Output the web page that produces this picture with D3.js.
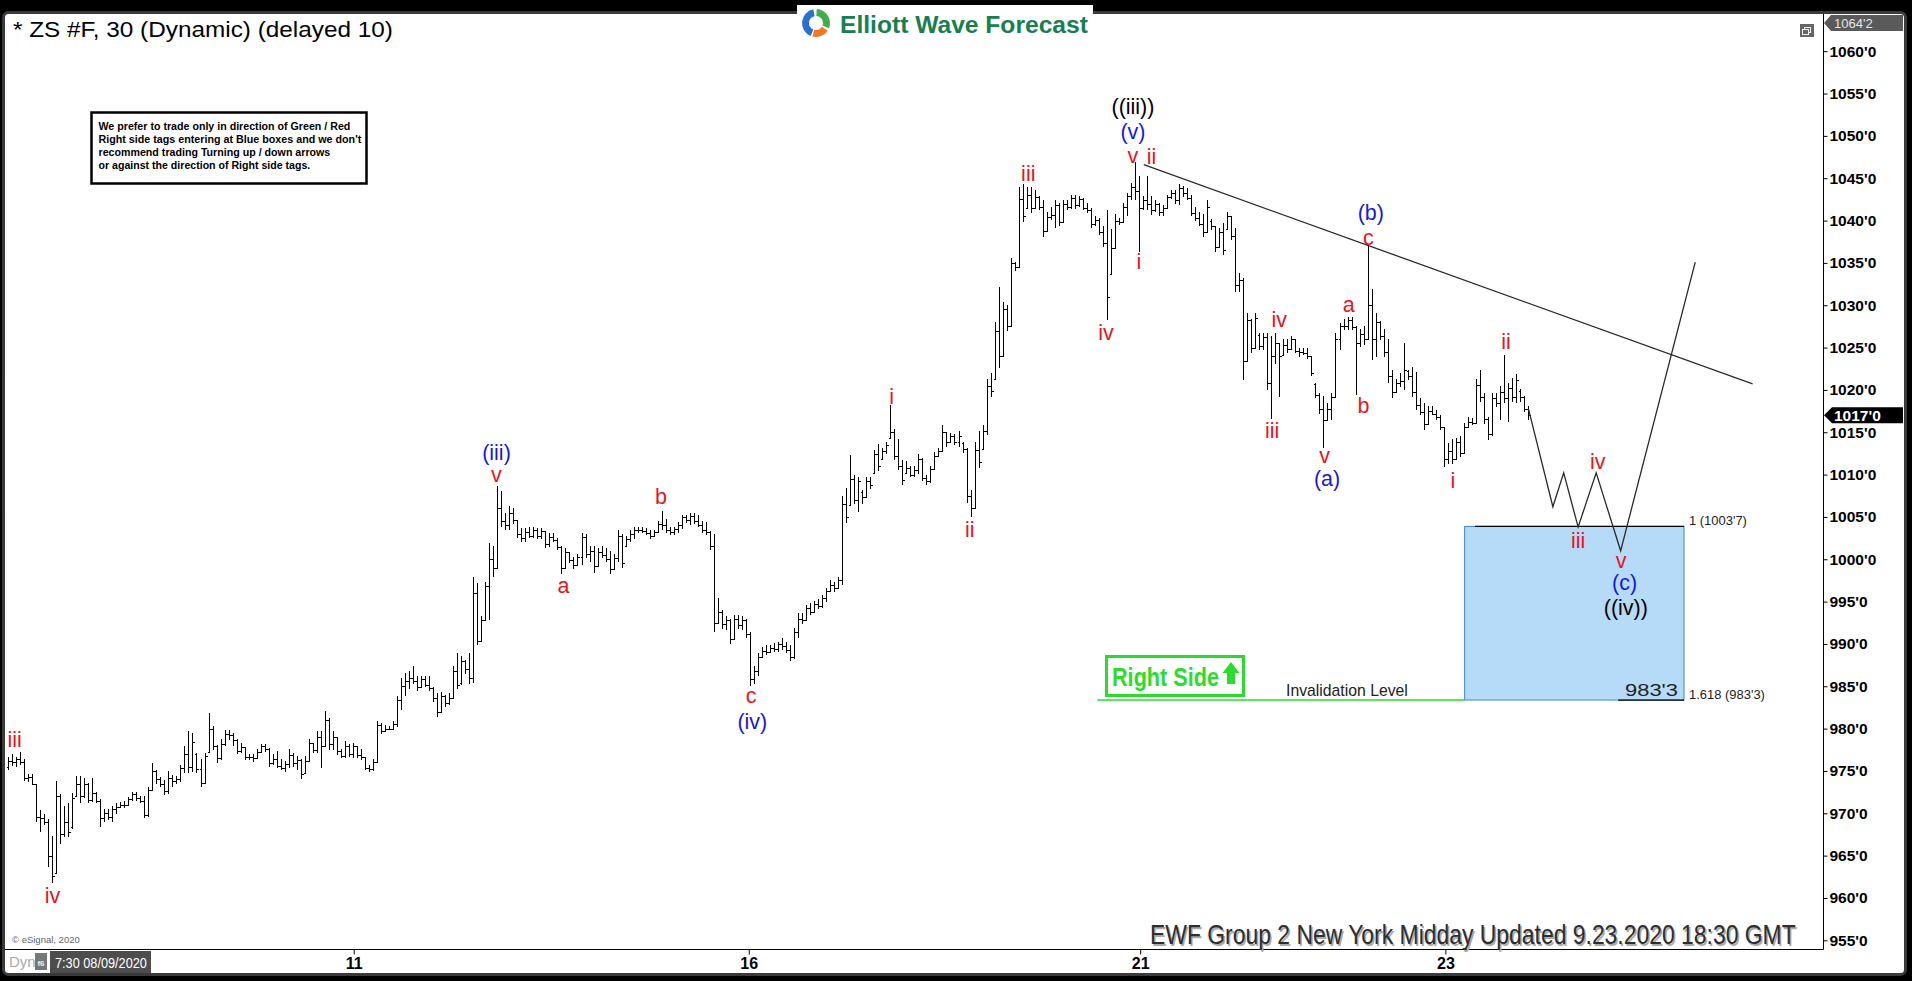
<!DOCTYPE html>
<html><head><meta charset="utf-8">
<script src="https://cdn.jsdelivr.net/npm/d3@7"></script>
<style>html,body{margin:0;padding:0;background:#000;overflow:hidden}</style>
</head><body>
<svg id="c" width="1912" height="981"></svg>
<script>
// ---- 30-minute OHLC bars (ZS #F) ----
const opens = [
975.5,976.2,976.0,976.4,976.0,974.2,974.3,973.4,969.6,969.4,
969.0,965.0,963.0,972.0,967.5,969.0,968.4,972.0,973.5,972.0,
973.5,971.6,972.4,971.5,969.4,970.0,969.6,970.5,970.7,971.0,
971.0,971.7,972.3,971.8,971.5,969.8,972.8,975.0,974.0,973.4,
972.6,974.2,973.8,974.0,975.3,977.0,975.5,977.0,975.2,973.6,
977.2,980.0,978.0,976.5,978.2,979.4,979.2,978.6,977.4,977.8,
976.7,976.6,976.5,977.2,977.9,977.6,975.9,976.4,975.6,975.4,
975.8,976.9,975.9,976.3,974.8,976.2,978.3,977.5,979.0,978.0,
981.0,978.2,979.0,977.3,976.8,978.0,977.0,977.9,976.9,976.6,
975.4,975.2,976.0,980.4,979.7,980.0,980.0,980.6,983.4,985.0,
985.6,986.0,985.6,984.9,985.8,985.2,984.8,983.6,982.0,983.8,
983.0,983.6,986.8,985.4,988.0,987.0,986.0,996.0,990.4,992.8,
996.8,1000.0,999.0,1006.0,1004.5,1004.0,1005.5,1004.6,1003.0,1002.5,
1003.2,1002.8,1003.5,1002.7,1003.3,1001.8,1002.6,1002.3,1001.4,999.0,
1000.8,999.9,999.3,1000.3,1002.6,1000.6,1001.0,999.2,1000.8,1000.5,
1000.0,998.8,1000.2,1002.8,1001.6,1002.4,1003.0,1003.4,1003.5,1003.3,
1003.1,1002.8,1003.2,1004.2,1004.0,1003.5,1003.2,1003.6,1004.0,1005.0,
1004.6,1005.1,1004.5,1004.1,1003.4,1003.2,1001.6,992.5,993.8,992.4,
992.8,990.6,993.0,992.2,992.8,991.2,985.8,986.8,988.4,989.2,
989.0,989.5,989.4,990.0,989.8,989.3,988.4,991.4,993.0,992.8,
994.2,993.8,994.7,994.5,995.4,996.3,997.0,996.6,997.5,1006.5,
1006.4,1009.5,1007.0,1008.0,1007.4,1009.3,1010.2,1012.4,1011.8,1012.8,
1014.3,1015.0,1012.2,1011.0,1010.2,1010.8,1010.0,1010.6,1011.8,1009.6,
1009.2,1010.7,1012.2,1012.8,1015.0,1013.8,1014.5,1013.9,1013.7,1013.0,
1007.5,1006.0,1012.9,1013.0,1015.2,1020.5,1021.3,1027.0,1024.0,1029.5,
1027.5,1035.0,1034.5,1042.5,1041.5,1043.0,1041.5,1042.8,1041.6,1038.8,
1040.4,1040.6,1041.8,1039.8,1042.0,1041.6,1042.7,1041.8,1042.5,1041.5,
1041.2,1039.6,1040.1,1038.7,1037.4,1033.7,1036.8,1040.0,1039.8,1041.6,
1042.9,1044.0,1043.5,1041.5,1042.4,1042.0,1041.2,1042.0,1041.0,1041.5,
1042.8,1043.2,1042.4,1043.9,1043.2,1042.7,1040.9,1040.3,1039.6,1038.6,
1040.0,1039.3,1036.9,1038.6,1039.0,1040.5,1038.2,1032.4,1033.0,1023.4,
1028.3,1025.0,1026.5,1025.2,1026.2,1020.8,1024.0,1025.5,1024.1,1025.3,
1024.8,1026.0,1024.6,1024.5,1024.3,1024.0,1020.7,1019.4,1017.8,1016.5,
1017.8,1019.2,1026.0,1027.5,1027.6,1028.2,1027.4,1025.5,1026.6,1026.0,
1030.0,1026.0,1028.0,1026.4,1024.5,1021.6,1019.8,1020.8,1021.0,1022.2,
1021.6,1019.8,1018.2,1017.4,1016.0,1017.5,1017.2,1016.8,1015.6,1011.8,
1012.8,1011.8,1013.9,1012.6,1015.6,1016.2,1016.1,1020.6,1019.2,1016.6,
1014.8,1019.0,1018.4,1019.8,1019.0,1020.2,1019.2,1019.9,1019.2,1017.8
];
const highs = [
976.6,976.9,976.6,977.2,976.3,974.6,974.6,973.4,970.3,969.8,
969.3,967.2,973.7,972.2,970.8,971.2,972.3,974.3,974.3,974.1,
973.5,974.1,972.4,971.6,970.4,970.4,970.8,971.2,971.3,971.4,
971.9,972.5,972.5,972.0,972.0,973.1,975.9,975.0,974.2,973.9,
974.9,974.5,974.3,975.7,977.9,979.6,979.4,977.1,976.3,977.1,
981.8,980.2,978.0,978.7,979.8,979.8,979.4,978.7,978.3,977.8,
976.9,976.9,977.5,978.1,978.1,977.7,976.9,977.3,976.3,976.1,
977.5,977.1,976.7,976.3,976.7,978.7,978.3,979.6,979.6,982.0,
981.2,979.6,979.0,977.5,978.5,978.1,978.3,977.9,977.5,976.6,
975.7,976.3,980.8,980.6,980.4,980.2,980.8,983.8,985.9,986.5,
986.7,987.3,986.1,986.1,986.1,986.1,984.9,984.1,984.3,983.9,
984.1,987.3,988.9,988.5,988.1,988.9,997.9,997.1,993.2,997.3,
1001.9,1001.5,1008.6,1008.0,1005.4,1006.2,1006.0,1004.6,1003.6,1003.6,
1003.8,1003.8,1003.6,1003.6,1003.3,1003.1,1003.1,1002.4,1001.5,1001.3,
1000.8,1000.2,1000.6,1003.1,1002.9,1001.5,1001.5,1001.3,1001.5,1001.3,
1000.9,1000.6,1003.4,1002.9,1002.7,1003.4,1003.8,1003.8,1003.8,1003.6,
1003.4,1003.4,1004.5,1005.6,1004.7,1003.8,1003.8,1004.3,1005.2,1005.2,
1005.4,1005.4,1005.2,1004.5,1004.3,1003.3,1002.9,995.4,993.9,993.2,
992.9,993.4,993.4,993.2,992.9,991.3,987.3,988.9,989.6,989.8,
989.8,990.0,990.2,990.7,990.2,989.8,991.8,993.6,993.6,994.5,
994.8,995.0,995.2,995.7,996.6,997.5,997.2,997.9,1007.4,1008.3,
1012.2,1009.9,1009.7,1008.1,1009.7,1009.7,1012.9,1013.5,1013.1,1013.8,
1018.1,1015.3,1014.2,1011.7,1011.5,1010.9,1011.0,1012.4,1011.9,1009.9,
1011.0,1012.6,1013.1,1015.8,1015.0,1014.9,1014.7,1015.1,1013.8,1013.1,
1008.1,1013.8,1015.1,1015.8,1021.2,1021.9,1028.0,1032.1,1030.3,1030.0,
1035.5,1035.0,1043.9,1044.2,1043.9,1043.9,1043.5,1042.8,1042.4,1041.0,
1041.6,1042.4,1042.0,1042.4,1042.4,1043.0,1043.0,1042.8,1042.6,1042.0,
1041.4,1040.5,1040.2,1039.3,1041.2,1038.9,1040.7,1040.3,1042.0,1043.2,
1044.4,1046.8,1045.2,1042.8,1045.2,1042.8,1042.4,1042.0,1041.8,1043.0,
1043.6,1043.6,1044.2,1044.0,1043.8,1043.0,1041.6,1040.9,1040.7,1042.4,
1040.1,1039.3,1039.1,1039.7,1040.9,1040.5,1039.1,1033.8,1033.1,1029.0,
1028.3,1029.0,1026.7,1026.7,1026.7,1026.3,1026.7,1025.5,1025.9,1025.9,
1026.3,1026.0,1024.9,1024.9,1024.9,1024.0,1020.8,1019.6,1019.2,1018.4,
1019.6,1026.7,1027.9,1028.3,1028.6,1028.6,1027.5,1027.1,1027.5,1037.1,
1031.8,1029.0,1028.1,1027.1,1025.9,1022.3,1021.2,1021.9,1025.5,1022.3,
1022.7,1022.1,1019.0,1018.4,1018.0,1018.0,1017.6,1017.0,1015.6,1013.7,
1014.1,1014.3,1014.5,1016.0,1016.8,1016.6,1021.2,1022.3,1019.6,1016.8,
1019.6,1019.6,1020.4,1024.1,1020.8,1021.4,1021.8,1020.0,1019.2,1018.0
];
const lows = [
975.1,975.6,975.5,975.7,973.8,973.7,973.3,969.0,967.8,968.6,
963.7,961.8,963.0,966.4,967.2,967.2,968.2,971.9,971.2,971.8,
971.2,971.3,971.2,968.4,969.0,969.2,969.0,969.9,970.6,970.6,
970.9,971.5,971.4,971.2,969.4,969.6,972.6,973.5,973.1,972.2,
972.3,973.1,973.5,973.7,974.7,974.7,974.9,974.7,973.1,973.4,
977.1,977.5,975.9,976.3,977.9,978.7,977.9,977.0,977.1,976.3,
976.3,976.1,976.5,977.1,977.2,975.5,975.7,975.3,975.1,974.9,
975.3,975.5,975.1,974.1,974.7,976.0,977.1,977.1,975.3,977.8,
977.5,977.5,976.9,976.5,976.5,976.7,976.5,976.5,976.3,975.1,
974.9,975.0,976.0,979.4,979.6,979.8,980.0,980.2,982.2,983.8,
984.7,985.3,984.5,984.9,984.9,984.5,983.2,981.4,981.9,982.6,
982.8,983.5,984.7,985.2,986.5,985.3,985.4,989.9,990.3,992.8,
992.8,997.9,998.8,1003.8,1003.4,1003.4,1004.2,1002.5,1002.0,1002.0,
1002.5,1002.5,1002.4,1002.4,1001.3,1001.5,1002.0,1001.1,998.2,998.8,
999.5,998.8,999.2,999.3,1000.2,999.7,998.4,999.1,1000.2,999.7,
998.2,998.7,999.7,999.0,1001.4,1002.0,1002.4,1003.1,1003.1,1002.9,
1002.4,1002.7,1003.2,1003.4,1003.1,1002.9,1002.9,1003.1,1003.6,1004.3,
1004.0,1004.2,1003.8,1003.1,1002.9,1001.1,991.4,992.5,991.8,991.6,
990.0,990.5,991.8,991.6,990.7,985.0,985.3,986.2,988.4,988.7,
988.9,989.1,989.1,989.3,988.9,988.0,988.2,990.7,992.3,992.7,
993.4,993.6,994.1,994.3,995.0,996.1,996.1,996.5,997.0,1004.3,
1006.3,1006.5,1005.6,1006.5,1007.4,1008.3,1010.1,1010.4,1011.7,1012.4,
1014.2,1011.7,1010.6,1008.8,1010.1,1009.7,1009.7,1010.1,1009.2,1008.8,
1009.0,1010.6,1012.2,1012.7,1013.3,1013.7,1013.5,1013.3,1012.6,1006.7,
1005.0,1006.0,1010.8,1012.9,1014.7,1019.2,1021.2,1022.6,1023.9,1026.9,
1027.5,1034.1,1034.5,1039.8,1041.4,1040.9,1041.4,1041.2,1038.1,1038.6,
1040.1,1039.1,1039.3,1039.7,1041.2,1041.4,1041.4,1041.6,1041.2,1040.9,
1039.1,1039.3,1038.3,1036.9,1028.3,1033.6,1036.7,1039.5,1039.7,1040.5,
1042.4,1042.4,1036.3,1041.2,1041.2,1040.7,1041.0,1040.5,1040.5,1041.4,
1042.6,1042.0,1041.8,1042.8,1042.4,1040.5,1039.9,1039.3,1038.1,1038.5,
1038.9,1036.3,1036.9,1035.9,1038.9,1037.7,1031.6,1031.6,1021.2,1023.4,
1024.3,1025.0,1024.7,1024.7,1020.0,1016.6,1023.1,1019.2,1024.0,1024.3,
1024.8,1024.3,1023.9,1024.1,1023.7,1021.6,1019.0,1017.2,1013.1,1016.4,
1016.4,1019.2,1024.7,1027.1,1027.1,1027.1,1019.4,1025.1,1025.3,1025.9,
1023.5,1023.9,1025.9,1023.9,1020.8,1019.0,1019.6,1020.4,1020.0,1021.2,
1019.2,1017.6,1017.0,1015.3,1016.0,1017.0,1016.4,1015.3,1010.9,1011.3,
1011.3,1011.7,1012.1,1012.5,1015.6,1015.9,1016.0,1018.6,1016.0,1014.1,
1014.5,1018.0,1016.4,1018.4,1016.2,1018.6,1018.4,1018.6,1017.4,1016.4
];
const closes = [
976.2,976.0,976.4,976.0,974.2,974.3,973.5,969.6,969.4,969.0,
965.0,962.6,972.0,967.5,969.0,967.8,971.8,973.5,972.0,973.5,
971.6,972.4,971.5,969.4,970.0,969.6,970.5,970.7,971.0,971.0,
971.7,972.3,971.8,971.5,969.8,972.8,975.0,974.0,973.4,972.6,
974.2,973.8,974.0,975.3,977.0,975.5,978.4,975.2,973.6,976.8,
980.0,978.0,976.5,978.2,979.4,979.2,978.6,977.4,977.8,976.7,
976.6,976.5,977.2,977.9,977.6,975.9,976.4,975.6,975.4,975.8,
976.9,975.9,976.3,974.6,976.2,978.3,977.5,979.0,978.0,981.0,
978.2,979.0,977.3,976.8,978.0,977.0,977.9,976.9,976.6,975.4,
975.2,976.0,980.4,979.7,980.0,980.0,980.6,983.4,985.0,985.6,
986.0,985.6,984.9,985.8,985.2,984.8,983.6,982.0,983.8,983.0,
983.6,986.8,985.2,988.0,987.0,986.0,996.0,990.4,992.8,996.8,
1000.0,999.0,1006.0,1004.5,1004.0,1005.5,1004.6,1003.0,1002.5,1003.2,
1002.8,1003.5,1002.7,1003.3,1001.8,1002.6,1002.3,1001.4,999.0,1000.8,
999.9,999.3,1000.3,1002.6,1000.6,1001.0,999.2,1000.8,1000.5,1000.0,
998.8,1000.2,1002.8,999.6,1002.4,1003.0,1003.4,1003.5,1003.3,1003.1,
1002.8,1003.2,1004.2,1004.0,1003.5,1003.2,1003.6,1004.0,1005.0,1004.6,
1005.1,1004.5,1004.1,1003.4,1003.2,1001.6,992.5,993.8,992.4,992.8,
990.6,993.0,992.2,992.8,991.2,985.8,986.8,988.4,989.2,989.0,
989.5,989.4,990.0,989.8,989.3,988.4,991.4,993.0,992.8,994.2,
993.8,994.7,994.5,995.4,996.3,997.0,996.6,997.5,1006.5,1005.0,
1009.5,1007.0,1009.2,1007.4,1009.3,1008.8,1012.4,1011.0,1012.8,1013.5,
1015.0,1012.2,1011.0,1009.4,1010.8,1010.0,1010.6,1011.8,1009.6,1009.2,
1010.7,1012.2,1012.8,1015.0,1013.8,1014.5,1013.9,1014.6,1013.0,1007.5,
1006.0,1012.9,1011.5,1015.2,1020.5,1019.9,1027.0,1024.0,1029.5,1027.5,
1035.0,1034.5,1042.5,1040.5,1043.0,1041.5,1042.8,1041.6,1038.8,1040.4,
1040.6,1041.8,1039.8,1042.0,1041.6,1042.7,1041.8,1042.5,1041.5,1041.2,
1039.6,1040.1,1038.7,1037.4,1031.0,1036.8,1040.0,1039.8,1041.6,1042.9,
1044.0,1043.5,1041.5,1042.4,1042.0,1041.2,1042.0,1041.0,1041.5,1042.8,
1043.2,1042.4,1043.9,1043.2,1042.7,1040.9,1040.3,1039.6,1038.6,1041.6,
1039.3,1036.9,1038.6,1036.5,1040.5,1038.2,1032.4,1033.0,1023.4,1028.3,
1025.0,1028.5,1025.2,1026.2,1020.8,1024.0,1025.5,1024.0,1025.3,1024.8,
1026.0,1024.6,1024.5,1024.3,1024.0,1022.0,1019.4,1017.8,1016.5,1017.8,
1019.2,1026.0,1027.5,1027.6,1028.2,1027.4,1025.5,1026.6,1026.0,1030.0,
1026.0,1028.0,1026.4,1024.5,1021.6,1019.8,1020.8,1021.0,1022.4,1021.6,
1019.8,1018.2,1017.4,1016.0,1017.5,1017.2,1016.8,1015.6,1011.8,1012.8,
1011.8,1013.9,1012.6,1015.6,1016.2,1016.1,1020.6,1019.2,1016.6,1014.8,
1019.0,1018.4,1019.8,1019.0,1020.2,1019.2,1021.2,1019.2,1017.8,1017.0
];

// axis ticks
const priceTicks = [955,960,965,970,975,980,985,990,995,1000,1005,1010,1015,1020,1025,1030,1035,1040,1045,1050,1055,1060];
const dateTickBars = [86.2, 184.7, 282.3, 358.4];
const dateTickLabels = ["11", "16", "21", "23"];
const lastPrice = 1017.0;
const topPrice = "1064'2";

// Elliott wave labels: text, bar position, price, colour key
const waveText  = ["iii","iv","(iii)","v","a","b","c","(iv)","i","ii","iii","((iii))","(v)","v","ii","iv","i","iii","iv","v","(a)","a","b","c","(b)","i","ii","iii","iv","v","(c)","((iv))"];
const waveBar   = [1.65,11.1,121.8,121.8,138.5,162.8,185.3,185.6,220.3,239.8,254.4,280.5,280.5,280.5,285.1,273.8,282.0,315.2,317.0,328.3,328.9,334.3,338.0,339.2,339.8,360.3,373.5,391.5,396.4,402.2,403.1,403.4];
const wavePrice = [978.6,960.2,1012.6,1010.0,996.8,1007.3,983.8,980.8,1019.2,1003.4,1045.5,1053.4,1050.5,1047.6,1047.5,1026.7,1035.1,1015.2,1028.2,1012.2,1009.5,1030.0,1018.1,1037.9,1040.9,1009.2,1025.7,1002.1,1011.5,999.8,997.2,994.3];
const waveColor = ["r","r","b","r","r","r","r","b","r","r","r","k","b","r","r","r","r","r","r","r","b","r","r","r","b","r","r","r","r","r","b","k"];

// drawn lines (bar position, price)
const trendBars = [283.2, 435.0];
const trendPrices = [1046.6, 1020.7];
const pathBars = [379.1, 385.2, 387.9, 391.5, 396.0, 402.1, 420.7];
const pathPrices = [1017.8, 1006.2, 1010.2, 1003.8, 1010.2, 1001.0, 1035.1];
const boxBars = [363.2, 417.9];
const boxPrices = [1003.875, 983.375];
const boxLabels = ["1 (1003'7)", "1.618 (983'3)", "983'3"];
const invalidationBars = [271.6, 363.2];

const noteLines = [
  "We prefer to trade only in direction of Green / Red",
  "Right side tags entering at Blue boxes and we don't",
  "recommend trading Turning up / down arrows",
  "or against the direction of Right side tags."
];

// ---------------- drawing ----------------
const W = 1912, H = 981;
const FONT = "'Liberation Sans', Arial, sans-serif";
const svg = d3.select("#c");
const x = d3.scaleLinear().domain([0, 379]).range([8, 1528]);
const y = d3.scaleLinear().domain([955, 1060]).range([940.3, 51.2]);
const colors = {r: "#e8141c", b: "#1818d8", k: "#000"};

// text fitted to a measured width by horizontal scaling (keeps bbox honest)
function fitText(px, py, width, str, attrs, anchor) {
  const t = svg.append("text").attr("x", 0).attr("y", 0).attr("font-family", FONT);
  Object.entries(attrs).forEach(([k, v]) => t.attr(k, v));
  t.text(str);
  const w = t.node().getComputedTextLength() || width;
  const s = width / w;
  const ox = anchor === "end" ? px - width : px;
  t.attr("transform", `translate(${ox},${py}) scale(${s},1)`);
  return t;
}

svg.append("rect").attr("width", W).attr("height", H).attr("fill", "#000");
svg.append("rect").attr("x", 3.5).attr("y", 12.5).attr("width", 1902).attr("height", 962)
  .attr("rx", 5).attr("fill", "#fff").attr("stroke", "#3a3a3a").attr("stroke-width", 3);
// logo patch over top band
svg.append("rect").attr("x", 797).attr("y", 5).attr("width", 296).attr("height", 12).attr("fill", "#fff");

// title
fitText(13, 37, 380, "* ZS #F, 30 (Dynamic) (delayed 10)", {"font-size": 22, fill: "#000"});

// logo
const logo = svg.append("g").attr("transform", "translate(816,23)");
const arc = d3.arc().innerRadius(7).outerRadius(14);
[["#2b6fd0", -2.75, -0.2], ["#3fae49", 0.05, 1.95], ["#f07a22", 2.15, 3.4]].forEach(a => {
  logo.append("path").attr("d", arc({startAngle: a[1], endAngle: a[2]})).attr("fill", a[0]);
});
fitText(840, 33, 248, "Elliott Wave Forecast", {"font-weight": "bold", "font-size": 24, fill: "#17804e"});

// note box
svg.append("rect").attr("x", 91.5).attr("y", 112.5).attr("width", 275).attr("height", 71)
  .attr("fill", "#fff").attr("stroke", "#000").attr("stroke-width", 2.5);
const noteLen = [252, 263, 232, 212];
noteLines.forEach((t, i) => {
  fitText(98.5, 129.5 + i * 13.3, noteLen[i], t, {"font-weight": "bold", "font-size": 11.5, fill: "#000"});
});

// target box
const bx0 = x(boxBars[0]), bx1 = x(boxBars[1]);
const byT = y(boxPrices[0]), byB = y(boxPrices[1]);
svg.append("rect").attr("x", bx0).attr("y", byT).attr("width", bx1 - bx0).attr("height", byB - byT)
  .attr("fill", "#b5dbf8").attr("stroke", "#3f86cf").attr("stroke-width", 1);
svg.append("line").attr("x1", x(365.8)).attr("x2", bx1).attr("y1", byT).attr("y2", byT)
  .attr("stroke", "#000").attr("stroke-width", 1.2);
svg.append("line").attr("x1", x(401.5)).attr("x2", bx1).attr("y1", byB).attr("y2", byB)
  .attr("stroke", "#000").attr("stroke-width", 1.2);
fitText(bx1 + 5, byT - 1.5, 58, boxLabels[0], {"font-size": 12.5, fill: "#222"});
fitText(bx1 + 5, byB - 1.5, 76, boxLabels[1], {"font-size": 12.5, fill: "#222"});
fitText(bx1 - 6, byB - 4, 53, boxLabels[2], {"font-size": 16, fill: "#222"}, "end");

// invalidation line
const GREEN = "#2cdc2c";
svg.append("line").attr("x1", x(invalidationBars[0])).attr("x2", x(invalidationBars[1]))
  .attr("y1", byB).attr("y2", byB).attr("stroke", GREEN).attr("stroke-width", 1.6);
fitText(1286, byB - 4.5, 122, "Invalidation Level", {"font-size": 16, fill: "#222"});

// Right Side tag
svg.append("rect").attr("x", 1106.5).attr("y", 656.5).attr("width", 137).attr("height", 39)
  .attr("fill", "#fff").attr("stroke", GREEN).attr("stroke-width", 3);
fitText(1112, 686, 107, "Right Side", {"font-weight": "bold", "font-size": 25, fill: GREEN});
svg.append("path").attr("d", "M1231,662 L1239.5,673 L1235,673 L1235,684 L1227,684 L1227,673 L1222.5,673 Z")
  .attr("fill", GREEN);

// OHLC bars
const bars = svg.append("g").attr("stroke", "#000").attr("stroke-width", 1).attr("shape-rendering", "crispEdges");
const idx = d3.range(opens.length);
const bx = i => Math.round(x(i)) + 0.5;
bars.selectAll("line.hl").data(idx).join("line").attr("class", "hl")
  .attr("x1", bx).attr("x2", bx)
  .attr("y1", i => y(highs[i]) - 0.5).attr("y2", i => Math.max(y(lows[i]), y(highs[i]) + 1.5));
bars.selectAll("line.op").data(idx).join("line").attr("class", "op")
  .attr("x1", i => bx(i) - 2).attr("x2", bx)
  .attr("y1", i => Math.round(y(opens[i])) + 0.5).attr("y2", i => Math.round(y(opens[i])) + 0.5);
bars.selectAll("line.cl").data(idx).join("line").attr("class", "cl")
  .attr("x1", bx).attr("x2", i => bx(i) + 2)
  .attr("y1", i => Math.round(y(closes[i])) + 0.5).attr("y2", i => Math.round(y(closes[i])) + 0.5);

// trend line & projected path
svg.append("line").attr("x1", x(trendBars[0])).attr("y1", y(trendPrices[0]))
  .attr("x2", x(trendBars[1])).attr("y2", y(trendPrices[1])).attr("stroke", "#2a2a2a").attr("stroke-width", 1.3);
svg.append("path").attr("d", d3.line().x((d, i) => x(pathBars[i])).y((d, i) => y(pathPrices[i]))(pathBars))
  .attr("fill", "none").attr("stroke", "#2a2a2a").attr("stroke-width", 1.3);

// wave labels
svg.append("g").selectAll("text").data(waveText).join("text")
  .attr("x", (d, i) => x(waveBar[i])).attr("y", (d, i) => y(wavePrice[i]))
  .attr("text-anchor", "middle").attr("dominant-baseline", "central")
  .attr("font-family", FONT).attr("font-size", 21.5)
  .attr("fill", (d, i) => colors[waveColor[i]]).text(d => d);

// axes frame
svg.append("line").attr("x1", 5).attr("x2", 1823.5).attr("y1", 949.5).attr("y2", 949.5).attr("stroke", "#000");
svg.append("line").attr("x1", 1823.5).attr("x2", 1823.5).attr("y1", 14).attr("y2", 949.5).attr("stroke", "#000");

const yAxis = svg.append("g").attr("transform", "translate(1823.5,0)")
  .call(d3.axisRight(y).tickValues(priceTicks).tickSize(4).tickPadding(2).tickFormat(d => d + "'0"));
yAxis.select(".domain").remove();
yAxis.selectAll("text").attr("font-family", FONT).attr("font-weight", "bold").attr("font-size", 15.5).attr("fill", "#000");

const xAxis = svg.append("g").attr("transform", "translate(0,949.5)")
  .call(d3.axisBottom(x).tickValues(dateTickBars).tickSize(5).tickPadding(3).tickFormat((d, i) => dateTickLabels[i]));
xAxis.select(".domain").remove();
xAxis.selectAll("text").attr("font-family", FONT).attr("font-weight", "bold").attr("font-size", 16).attr("fill", "#000");

// top price tag
svg.append("path").attr("d", "M1824,23 L1831,15 L1903,15 L1903,31 L1831,31 Z").attr("fill", "#5a5a5a");
svg.append("text").attr("x", 1834).attr("y", 28).attr("font-family", FONT).attr("font-size", 13)
  .attr("fill", "#e6e6e6").text(topPrice);
// last price tag
const ly = y(lastPrice);
svg.append("path").attr("d", `M1824,${ly} L1832,${ly - 8} L1903,${ly - 8} L1903,${ly + 8} L1832,${ly + 8} Z`).attr("fill", "#000");
svg.append("text").attr("x", 1834).attr("y", ly + 5.5).attr("font-family", FONT).attr("font-weight", "bold")
  .attr("font-size", 15.5).attr("fill", "#fff").text(d3.format(".0f")(lastPrice) + "'0");
// restore icon
svg.append("rect").attr("x", 1800).attr("y", 24).attr("width", 14).attr("height", 13).attr("fill", "#666");
svg.append("rect").attr("x", 1804.5).attr("y", 27.5).attr("width", 6).attr("height", 5).attr("fill", "none").attr("stroke", "#eee");
svg.append("rect").attr("x", 1802.5).attr("y", 29.5).attr("width", 6).attr("height", 5).attr("fill", "#666").attr("stroke", "#eee");

// footer texts
svg.append("text").attr("x", 12).attr("y", 943).attr("font-family", FONT).attr("font-size", 9.5)
  .attr("fill", "#666").text("© eSignal, 2020");
const footer = "EWF Group 2 New York Midday Updated 9.23.2020 18:30 GMT";
fitText(1151.5, 945.5, 646, footer, {"font-size": 27, fill: "#aaa"});
fitText(1150, 944, 646, footer, {"font-size": 27, fill: "#2e2e2e"});

svg.append("text").attr("x", 9).attr("y", 967).attr("font-family", FONT).attr("font-size", 15)
  .attr("fill", "#aaa").text("Dyn");
svg.append("rect").attr("x", 35).attr("y", 953).attr("width", 12).attr("height", 17).attr("fill", "#777");
svg.append("text").attr("x", 41).attr("y", 966).attr("text-anchor", "middle").attr("font-family", FONT)
  .attr("font-size", 8).attr("font-weight", "bold").attr("fill", "#eee").text("f6");
svg.append("rect").attr("x", 50).attr("y", 951).attr("width", 101).attr("height", 22).attr("fill", "#4d4d4d");
fitText(55, 967.5, 92, "7:30 08/09/2020", {"font-size": 15, fill: "#fff"});
</script>
</body></html>
